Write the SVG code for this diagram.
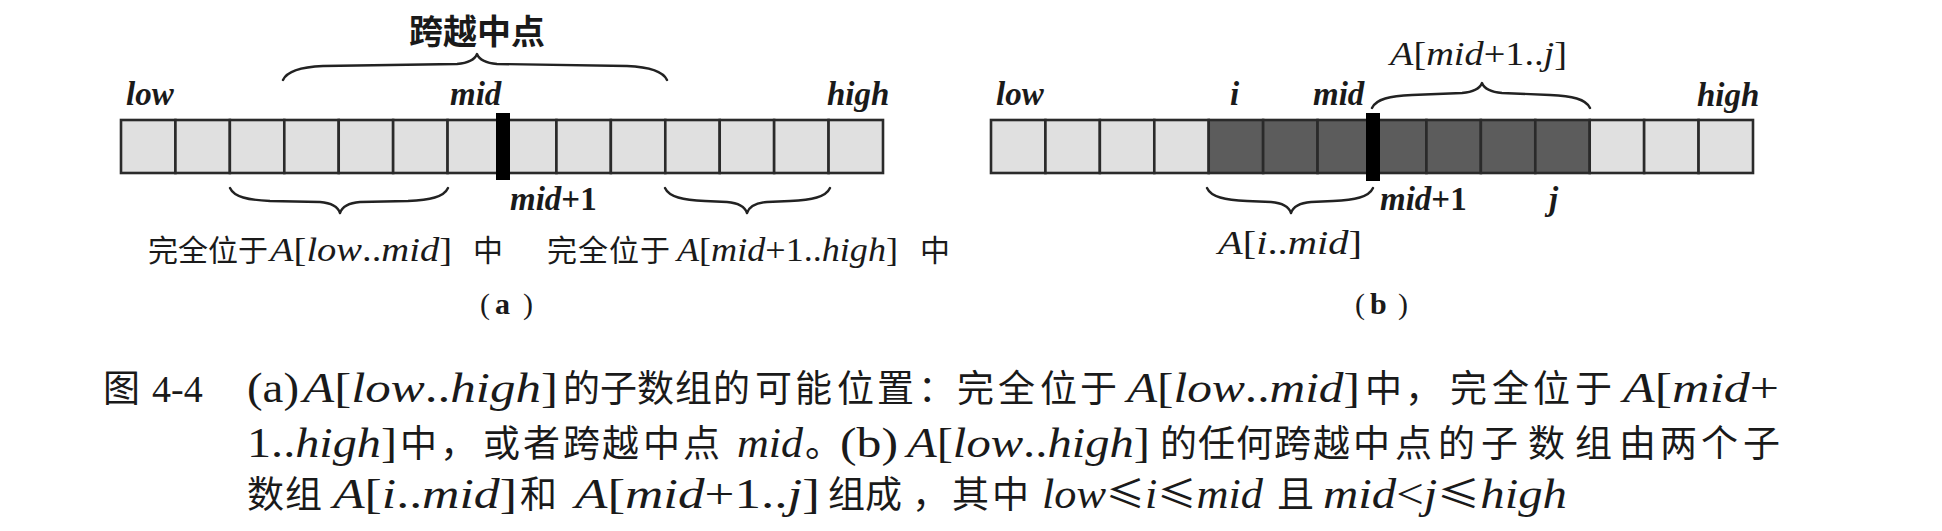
<svg xmlns="http://www.w3.org/2000/svg" width="1942" height="531" viewBox="0 0 1942 531">
<style>
.cl{fill:#e0e0e0;stroke:#2a2a2a;stroke-width:2.6}
.cd{fill:#5c5c5c;stroke:#2a2a2a;stroke-width:2.6}
.bar{fill:#000}
.brace{fill:none;stroke:#222;stroke-width:2.4;stroke-linecap:round;stroke-linejoin:round}
text{fill:#1a1a1a}
.lbl{font-family:"Liberation Serif",serif;font-style:italic;font-weight:bold;font-size:33px}
.it{font-family:"Liberation Serif",serif;font-style:italic}
.rm{font-family:"Liberation Serif",serif;font-style:normal}
.zh{font-family:"Noto Sans CJK SC",sans-serif;font-style:normal}
.bz{font-family:"Noto Sans CJK SC",sans-serif;font-weight:bold;font-size:34px}
.cz{font-family:"Noto Sans CJK SC",sans-serif;font-size:37px}
.cm{font-size:42px}
.dm{font-size:33px}
</style>
<rect width="1942" height="531" fill="#fff"/>

<g id="array-a">
<rect class="cl" x="121" y="120" width="54.43" height="53"/>
<rect class="cl" x="175.43" y="120" width="54.43" height="53"/>
<rect class="cl" x="229.86" y="120" width="54.43" height="53"/>
<rect class="cl" x="284.29" y="120" width="54.43" height="53"/>
<rect class="cl" x="338.71" y="120" width="54.43" height="53"/>
<rect class="cl" x="393.14" y="120" width="54.43" height="53"/>
<rect class="cl" x="447.57" y="120" width="54.43" height="53"/>
<rect class="cl" x="502" y="120" width="54.43" height="53"/>
<rect class="cl" x="556.43" y="120" width="54.43" height="53"/>
<rect class="cl" x="610.86" y="120" width="54.43" height="53"/>
<rect class="cl" x="665.29" y="120" width="54.43" height="53"/>
<rect class="cl" x="719.71" y="120" width="54.43" height="53"/>
<rect class="cl" x="774.14" y="120" width="54.43" height="53"/>
<rect class="cl" x="828.57" y="120" width="54.43" height="53"/>
<rect class="bar" x="496" y="113" width="14" height="67"/>
</g>

<g id="array-b">
<rect class="cl" x="991" y="120" width="54.43" height="53"/>
<rect class="cl" x="1045.43" y="120" width="54.43" height="53"/>
<rect class="cl" x="1099.86" y="120" width="54.43" height="53"/>
<rect class="cl" x="1154.29" y="120" width="54.43" height="53"/>
<rect class="cd" x="1208.71" y="120" width="54.43" height="53"/>
<rect class="cd" x="1263.14" y="120" width="54.43" height="53"/>
<rect class="cd" x="1317.57" y="120" width="54.43" height="53"/>
<rect class="cd" x="1372" y="120" width="54.43" height="53"/>
<rect class="cd" x="1426.43" y="120" width="54.43" height="53"/>
<rect class="cd" x="1480.86" y="120" width="54.43" height="53"/>
<rect class="cd" x="1535.29" y="120" width="54.43" height="53"/>
<rect class="cl" x="1589.71" y="120" width="54.43" height="53"/>
<rect class="cl" x="1644.14" y="120" width="54.43" height="53"/>
<rect class="cl" x="1698.57" y="120" width="54.43" height="53"/>
<rect class="bar" x="1366" y="113" width="14" height="68"/>
</g>

<g id="braces">
<path class="brace" d="M283,80 C287,71 301,67 323,66 L457,64 C469,63 475,59 477,54 C479,59 485,63 497,64 L627,66 C649,67 663,71 667,80"/>
<path class="brace" d="M230,188 C234,197 248,200 270,201 L320,202 C332,203 338,207 340,213 C342,207 348,203 360,202 L408,201 C430,200 444,197 448,188"/>
<path class="brace" d="M665,188 C669,197 683,200 705,201 L727,202 C739,203 745,207 747,213 C749,207 755,203 767,202 L790,201 C812,200 826,197 830,188"/>
<path class="brace" d="M1372,108 C1376,99 1390,96 1412,95 L1462,93 C1474,92 1480,88 1482,83 C1484,88 1490,92 1502,93 L1550,95 C1572,96 1586,99 1590,108"/>
<path class="brace" d="M1207,188 C1211,197 1225,200 1247,201 L1271,202 C1283,203 1289,207 1291,213 C1293,207 1299,203 1311,202 L1333,201 C1355,200 1369,197 1373,188"/>
</g>

<g id="labels-a">
<text class="bz" x="477" y="44" text-anchor="middle">跨越中点</text>
<text class="lbl" x="126" y="105">low</text>
<text class="lbl" x="450" y="105">mid</text>
<text class="lbl" x="827" y="105">high</text>
<text class="lbl" x="510" y="210">mid<tspan style="font-style:normal">+1</tspan></text>
<text class="zh" x="148 178 208 238" y="261" font-size="30">完全位于</text>
<text class="dm" x="270" y="261" textLength="182" lengthAdjust="spacingAndGlyphs"><tspan class="it">A</tspan><tspan class="rm">[</tspan><tspan class="it">low</tspan><tspan class="rm">..</tspan><tspan class="it">mid</tspan><tspan class="rm">]</tspan></text>
<text class="zh" x="473" y="261" font-size="30">中</text>
<text class="zh" x="547 578 609 640" y="261" font-size="30">完全位于</text>
<text class="dm" x="677" y="261" textLength="221" lengthAdjust="spacingAndGlyphs"><tspan class="it">A</tspan><tspan class="rm">[</tspan><tspan class="it">mid</tspan><tspan class="rm">+1..</tspan><tspan class="it">high</tspan><tspan class="rm">]</tspan></text>
<text class="zh" x="920" y="261" font-size="30">中</text>
<text font-size="30"><tspan class="rm" x="480" y="314">(</tspan><tspan class="rm" x="495" font-weight="bold">a</tspan><tspan class="rm" x="523">)</tspan></text>
</g>

<g id="labels-b">
<text class="lbl" x="996" y="105">low</text>
<text class="lbl" x="1230" y="105">i</text>
<text class="lbl" x="1313" y="105">mid</text>
<text class="lbl" x="1697" y="106">high</text>
<text class="lbl" x="1380" y="210">mid<tspan style="font-style:normal">+1</tspan></text>
<text class="lbl" x="1549" y="210">j</text>
<text class="dm" x="1390" y="65" textLength="177" lengthAdjust="spacingAndGlyphs"><tspan class="it">A</tspan><tspan class="rm">[</tspan><tspan class="it">mid</tspan><tspan class="rm">+1..</tspan><tspan class="it">j</tspan><tspan class="rm">]</tspan></text>
<text class="dm" x="1218" y="254" textLength="144" lengthAdjust="spacingAndGlyphs"><tspan class="it">A</tspan><tspan class="rm">[</tspan><tspan class="it">i</tspan><tspan class="rm">..</tspan><tspan class="it">mid</tspan><tspan class="rm">]</tspan></text>
<text font-size="30"><tspan class="rm" x="1355" y="314">(</tspan><tspan class="rm" x="1370" font-weight="bold">b</tspan><tspan class="rm" x="1398">)</tspan></text>
</g>

<g id="caption">
<text class="cz" x="103" y="402">图</text>
<text class="rm" x="152" y="402" font-size="38">4-4</text>
<text class="rm cm" x="247" y="402" textLength="52" lengthAdjust="spacingAndGlyphs">(a)</text>
<text class="cm" x="303" y="402" textLength="255" lengthAdjust="spacingAndGlyphs"><tspan class="it">A</tspan><tspan class="rm">[</tspan><tspan class="it">low</tspan><tspan class="rm">..</tspan><tspan class="it">high</tspan><tspan class="rm">]</tspan></text>
<text class="cz" x="563 600 637 675 713 755 795 837 877 918 957 998 1040 1080" y="402">的子数组的可能位置：完全位于</text>
<text class="cm" x="1127" y="402" textLength="233" lengthAdjust="spacingAndGlyphs"><tspan class="it">A</tspan><tspan class="rm">[</tspan><tspan class="it">low</tspan><tspan class="rm">..</tspan><tspan class="it">mid</tspan><tspan class="rm">]</tspan></text>
<text class="cz" x="1365 1405 1450 1492 1533 1575" y="402">中，完全位于</text>
<text class="cm" x="1623" y="402" textLength="156" lengthAdjust="spacingAndGlyphs"><tspan class="it">A</tspan><tspan class="rm">[</tspan><tspan class="it">mid</tspan><tspan class="rm">+</tspan></text>

<text class="cm" x="247" y="457" textLength="150" lengthAdjust="spacingAndGlyphs"><tspan class="rm">1..</tspan><tspan class="it">high</tspan><tspan class="rm">]</tspan></text>
<text class="cz" x="400 440 483 523 563 602 643 683" y="457">中，或者跨越中点</text>
<text class="it cm" x="737" y="457" textLength="66" lengthAdjust="spacingAndGlyphs">mid</text>
<text class="cz" x="805" y="457">。</text>
<text class="rm cm" x="840" y="457" textLength="58" lengthAdjust="spacingAndGlyphs">(b)</text>
<text class="cm" x="907" y="457" textLength="243" lengthAdjust="spacingAndGlyphs"><tspan class="it">A</tspan><tspan class="rm">[</tspan><tspan class="it">low</tspan><tspan class="rm">..</tspan><tspan class="it">high</tspan><tspan class="rm">]</tspan></text>
<text class="cz" x="1160 1198 1236 1274 1313 1353 1395 1438 1481 1528 1575 1619 1660 1701 1743" y="457">的任何跨越中点的子数组由两个子</text>

<text class="cz" x="247 285" y="508">数组</text>
<text class="cm" x="333" y="508" textLength="184" lengthAdjust="spacingAndGlyphs"><tspan class="it">A</tspan><tspan class="rm">[</tspan><tspan class="it">i</tspan><tspan class="rm">..</tspan><tspan class="it">mid</tspan><tspan class="rm">]</tspan></text>
<text class="cz" x="520" y="508">和</text>
<text class="cm" x="575" y="508" textLength="245" lengthAdjust="spacingAndGlyphs"><tspan class="it">A</tspan><tspan class="rm">[</tspan><tspan class="it">mid</tspan><tspan class="rm">+1..</tspan><tspan class="it">j</tspan><tspan class="rm">]</tspan></text>
<text class="cz" x="828 865 912 952 992" y="508">组成，其中</text>
<text class="cm" x="1042" y="508" textLength="221" lengthAdjust="spacingAndGlyphs"><tspan class="it">low</tspan><tspan class="zh" font-size="37">≤</tspan><tspan class="it">i</tspan><tspan class="zh" font-size="37">≤</tspan><tspan class="it">mid</tspan></text>
<text class="cz" x="1277" y="508">且</text>
<text class="cm" x="1323" y="508" textLength="244" lengthAdjust="spacingAndGlyphs"><tspan class="it">mid</tspan><tspan class="rm">&lt;</tspan><tspan class="it">j</tspan><tspan class="zh" font-size="37">≤</tspan><tspan class="it">high</tspan></text>
</g>
</svg>
